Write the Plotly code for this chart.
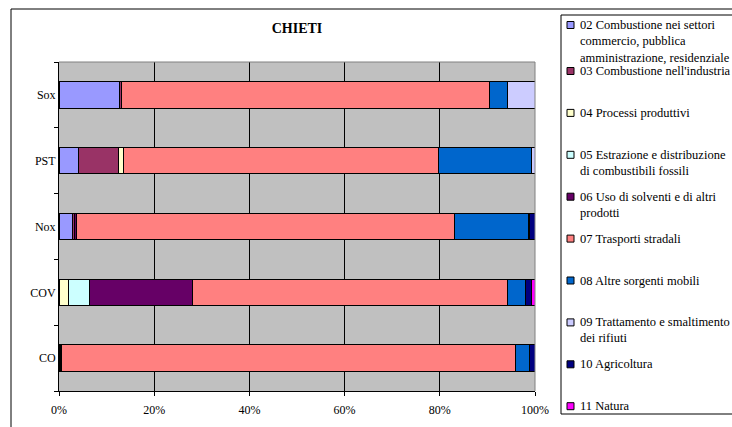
import plotly.graph_objects as go

# Emission shares (%) by macrosector for the province of Chieti
pollutants = ["CO", "COV", "Nox", "PST", "Sox"]

sectors = [
    "02 Combustione nei settori<br>commercio, pubblica<br>amministrazione, residenziale",
    "03 Combustione nell'industria",
    "04 Processi produttivi",
    "05 Estrazione e distribuzione<br>di combustibili fossili",
    "06 Uso di solventi e di altri<br>prodotti",
    "07 Trasporti stradali",
    "08 Altre sorgenti mobili",
    "09 Trattamento e smaltimento<br>dei rifiuti",
    "10 Agricoltura",
    "11 Natura",
]

s02 = [0.3, 0.0, 2.8, 4.1, 12.7]
s03 = [0.2, 0.0, 0.5, 8.4, 0.5]
s04 = [0.0, 2.0, 0.0, 1.0, 0.0]
s05 = [0.0, 4.5, 0.0, 0.0, 0.0]
s06 = [0.0, 21.5, 0.3, 0.0, 0.0]
s07 = [95.4, 66.2, 79.4, 66.2, 77.3]
s08 = [2.9, 3.7, 15.6, 19.6, 3.7]
s09 = [0.0, 0.0, 0.3, 0.7, 5.8]
s10 = [1.2, 1.4, 1.1, 0.0, 0.0]
s11 = [0.0, 0.7, 0.0, 0.0, 0.0]

series = [s02, s03, s04, s05, s06, s07, s08, s09, s10, s11]

colors = ["#9999FF", "#993366", "#FFFFCC", "#CCFFFF", "#660066",
          "#FF8080", "#0066CC", "#CCCCFF", "#000080", "#FF00FF"]

x_ticks = [0, 20, 40, 60, 80, 100]

FONT = "Liberation Serif, Times New Roman, serif"
W, H = 732, 427
L, R, T, B = 59, 535, 62, 391   # plot area edges in pixels


def px_x(p):
    return (p - L) / (R - L)


def px_y(p):
    return (B - p) / (B - T)


fig = go.Figure()
for name, vals, col in zip(sectors, series, colors):
    fig.add_trace(go.Bar(
        y=pollutants, x=vals, name=name.replace("<br>", " "),
        orientation="h", marker=dict(color=col, line=dict(color="black", width=1)),
        showlegend=False,
    ))

shapes = []
annotations = []

# outer chart frame
shapes.append(dict(type="rect", xref="paper", yref="paper",
                   x0=px_x(11), x1=px_x(760), y0=px_y(460), y1=px_y(9),
                   line=dict(color="black", width=1), fillcolor="rgba(0,0,0,0)",
                   layer="below"))
# plot-area border (top and right)
shapes.append(dict(type="path", xref="paper", yref="paper",
                   path="M 0,1 L 1,1 L 1,0",
                   line=dict(color="#808080", width=1), layer="above"))
# legend frame
shapes.append(dict(type="rect", xref="paper", yref="paper",
                   x0=px_x(561), x1=px_x(760), y0=px_y(414), y1=px_y(15),
                   line=dict(color="black", width=1), fillcolor="white",
                   layer="below"))

# legend entries
for i, (name, col) in enumerate(zip(sectors, colors)):
    yc = 25 if i == 0 else 71 + 41.9 * (i - 1)
    shapes.append(dict(type="rect", xref="paper", yref="paper",
                       x0=px_x(567), x1=px_x(574), y0=px_y(yc + 3.5), y1=px_y(yc - 3.5),
                       line=dict(color="black", width=1), fillcolor=col, layer="above"))
    annotations.append(dict(xref="paper", yref="paper", x=px_x(579), y=px_y(yc - 8),
                            xanchor="left", yanchor="top", align="left",
                            text=name, showarrow=False, borderpad=0,
                            font=dict(family=FONT, size=12.5, color="black")))

fig.update_layout(
    width=W, height=H,
    barmode="stack", bargap=0.6,
    margin=dict(l=L, r=W - R, t=T, b=H - B, autoexpand=False),
    paper_bgcolor="white", plot_bgcolor="#C0C0C0",
    font=dict(family=FONT, size=12, color="black"),
    title=dict(text="<b>CHIETI</b>", x=px_x(297), xref="paper", xanchor="center",
               y=1 - 28 / H, yanchor="middle", font=dict(family=FONT, size=14, color="black")),
    xaxis=dict(range=[0, 100], tickvals=x_ticks, ticktext=[f"{v}%" for v in x_ticks],
               showgrid=True, gridcolor="black", gridwidth=1,
               showline=True, linecolor="black", linewidth=1,
               ticks="outside", ticklen=4, tickcolor="black", ticklabelstandoff=4,
               zeroline=False, fixedrange=True),
    yaxis=dict(showgrid=False, showline=True, linecolor="black", linewidth=1,
               ticks="outside", ticklen=4, tickcolor="black", tickson="boundaries",
               zeroline=False),
    shapes=shapes, annotations=annotations,
)

fig.write_html("out.html")
